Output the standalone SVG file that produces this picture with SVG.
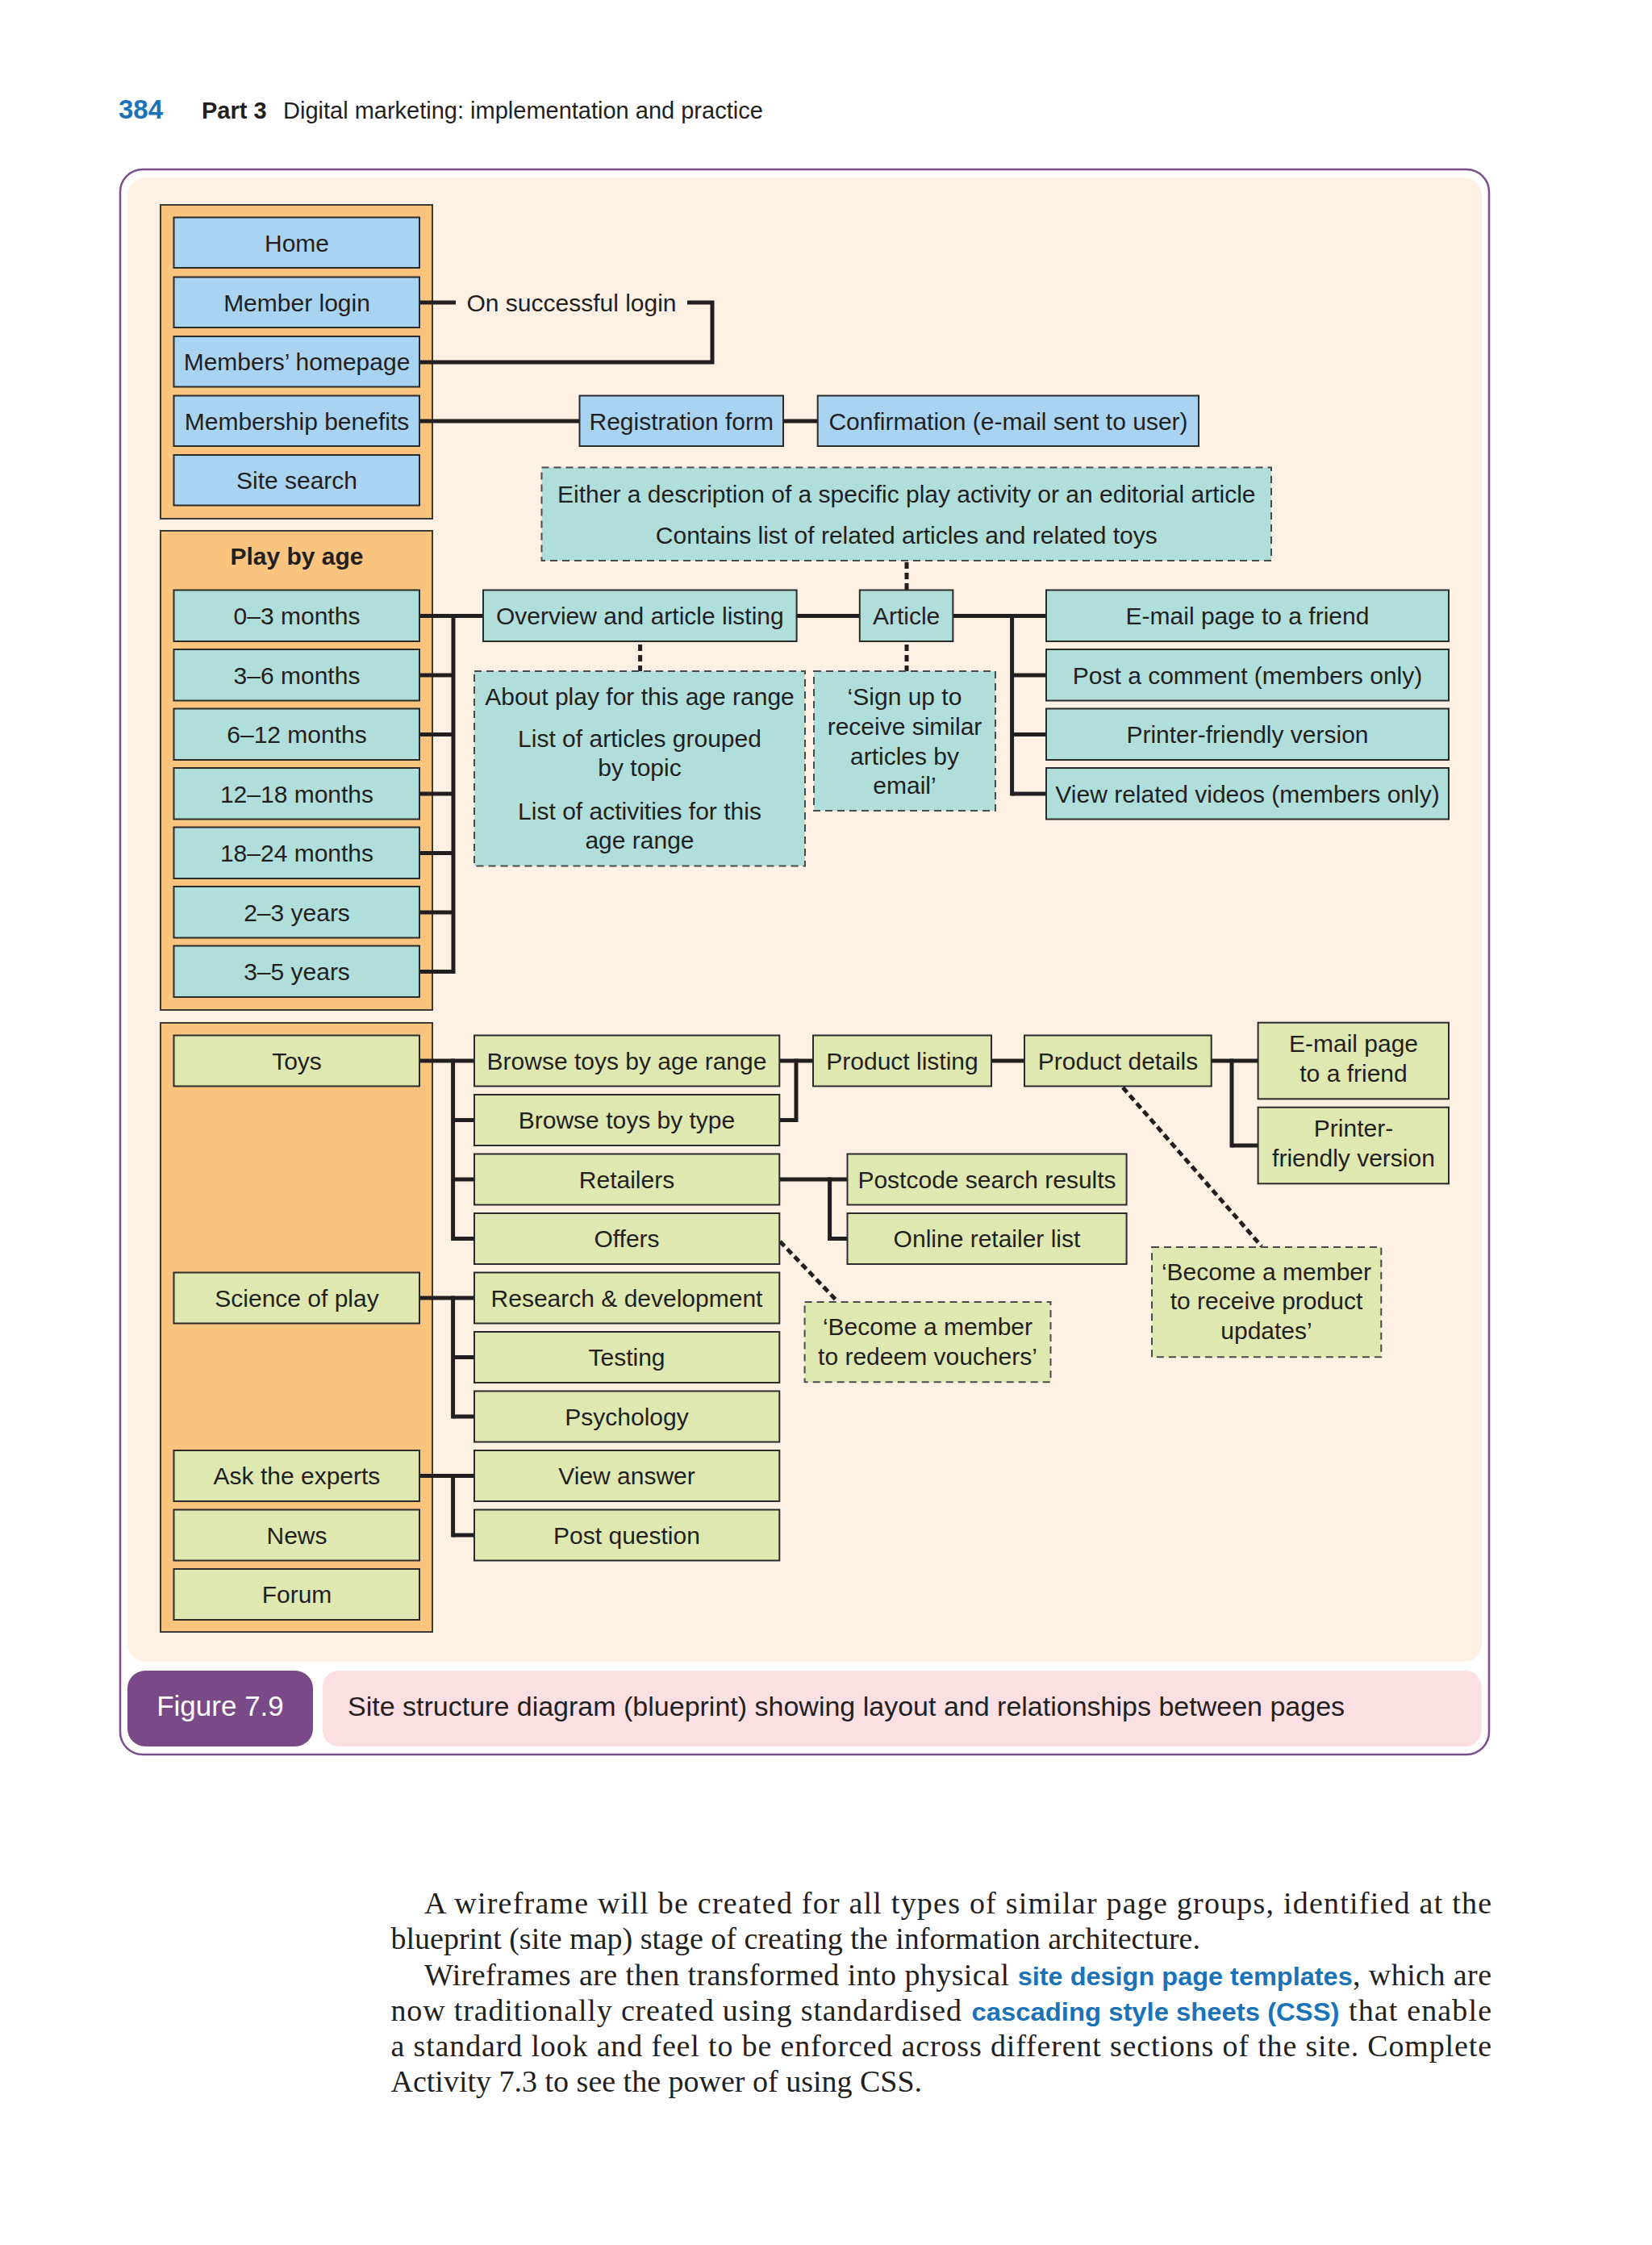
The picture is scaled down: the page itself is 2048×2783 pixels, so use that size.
<svg xmlns="http://www.w3.org/2000/svg" width="2048" height="2783" viewBox="0 0 2048 2783">
<style>
.t{font-family:"Liberation Sans",Arial,Helvetica,sans-serif;font-size:30px;fill:#231f20;text-anchor:middle}
.b{font-weight:bold}
.blue{fill:#a9d4f1;stroke:#2b2b2b;stroke-width:2}
.teal{fill:#b0dedb;stroke:#2b2b2b;stroke-width:2}
.green{fill:#dfe8b1;stroke:#2b2b2b;stroke-width:2}
.grp{fill:#fac47f;stroke:#3a3a3a;stroke-width:2}
.dteal{fill:#b0dedb;stroke:#4a4a4a;stroke-width:2;stroke-dasharray:9 6}
.dgreen{fill:#dfe8b1;stroke:#4a4a4a;stroke-width:2;stroke-dasharray:9 6}
.ln{fill:none;stroke:#231f20;stroke-width:5}
.dl{fill:none;stroke:#231f20;stroke-width:5;stroke-dasharray:8 5}
.body{font-family:"Liberation Serif","Times New Roman",serif;font-size:38px;fill:#231f20}
.kw{font-family:"Liberation Sans",Arial,sans-serif;font-size:32px;font-weight:bold;fill:#1a72b9}
</style>

<!-- page header -->
<g id="header">
<text x="147" y="147" style="font-family:'Liberation Sans',Arial,sans-serif;font-size:33px;font-weight:bold;fill:#1a72b9">384</text>
<text x="250" y="147" style="font-family:'Liberation Sans',Arial,sans-serif;font-size:29px;font-weight:bold;fill:#231f20">Part 3</text>
<text x="351" y="147" style="font-family:'Liberation Sans',Arial,sans-serif;font-size:29px;fill:#231f20">Digital marketing: implementation and practice</text>
</g>

<!-- frame -->
<g id="frame">
<rect x="149" y="210" width="1697" height="1965" rx="28" fill="#ffffff" stroke="#7d4e8d" stroke-width="2.5"/>
<rect x="158" y="220" width="1679" height="1840" rx="22" fill="#fef1e4"/>
</g>

<!-- group containers -->
<g id="group-main"><rect class="grp" x="199" y="254" width="337" height="389"/></g>
<g id="group-playbyage"><rect class="grp" x="199" y="658" width="337" height="594"/>
<text class="t b" x="368" y="700">Play by age</text></g>
<g id="group-toys"><rect class="grp" x="199" y="1268" width="337" height="755"/></g>

<!-- connectors -->
<g id="connectors">
<line class="ln" x1="520" y1="375" x2="565" y2="375"/>
<polyline class="ln" points="852,375 883,375 883,449 520,449"/>
<line class="ln" x1="520" y1="522" x2="718" y2="522"/>
<line class="ln" x1="971" y1="522" x2="1014" y2="522"/>
<!-- play by age -->
<line class="ln" x1="520" y1="763.5" x2="599" y2="763.5"/>
<line class="ln" x1="562" y1="761" x2="562" y2="1207"/>
<line class="ln" x1="520" y1="837" x2="562" y2="837"/>
<line class="ln" x1="520" y1="910.5" x2="562" y2="910.5"/>
<line class="ln" x1="520" y1="984" x2="562" y2="984"/>
<line class="ln" x1="520" y1="1057.5" x2="562" y2="1057.5"/>
<line class="ln" x1="520" y1="1131" x2="562" y2="1131"/>
<line class="ln" x1="520" y1="1204.5" x2="562" y2="1204.5"/>
<line class="ln" x1="987.6" y1="763.5" x2="1065.8" y2="763.5"/>
<line class="ln" x1="1181.4" y1="763.5" x2="1297" y2="763.5"/>
<line class="ln" x1="1254.6" y1="761" x2="1254.6" y2="986.5"/>
<line class="ln" x1="1254.6" y1="837" x2="1297" y2="837"/>
<line class="ln" x1="1254.6" y1="910.5" x2="1297" y2="910.5"/>
<line class="ln" x1="1254.6" y1="984" x2="1297" y2="984"/>
<line class="dl" x1="793.6" y1="799" x2="793.6" y2="832"/>
<line class="dl" x1="1124" y1="697" x2="1124" y2="731.5"/>
<line class="dl" x1="1124" y1="799" x2="1124" y2="832"/>
<!-- toys -->
<line class="ln" x1="519.7" y1="1315" x2="588" y2="1315"/>
<line class="ln" x1="561.6" y1="1312.5" x2="561.6" y2="1538"/>
<line class="ln" x1="561.6" y1="1388.5" x2="588" y2="1388.5"/>
<line class="ln" x1="561.6" y1="1462" x2="588" y2="1462"/>
<line class="ln" x1="561.6" y1="1535.5" x2="588" y2="1535.5"/>
<line class="ln" x1="519.7" y1="1609" x2="588" y2="1609"/>
<line class="ln" x1="561.6" y1="1606.5" x2="561.6" y2="1758.5"/>
<line class="ln" x1="561.6" y1="1682.5" x2="588" y2="1682.5"/>
<line class="ln" x1="561.6" y1="1756" x2="588" y2="1756"/>
<line class="ln" x1="519.7" y1="1829.5" x2="588" y2="1829.5"/>
<line class="ln" x1="561.6" y1="1827" x2="561.6" y2="1905.5"/>
<line class="ln" x1="561.6" y1="1903" x2="588" y2="1903"/>
<line class="ln" x1="966.3" y1="1315" x2="1008" y2="1315"/>
<line class="ln" x1="987" y1="1312.5" x2="987" y2="1391"/>
<line class="ln" x1="966.3" y1="1388.5" x2="987" y2="1388.5"/>
<line class="ln" x1="1229" y1="1315" x2="1270" y2="1315"/>
<line class="ln" x1="1501.7" y1="1315" x2="1559.6" y2="1315"/>
<line class="ln" x1="1527" y1="1312.5" x2="1527" y2="1422.5"/>
<line class="ln" x1="1527" y1="1420" x2="1559.6" y2="1420"/>
<line class="ln" x1="966.3" y1="1462" x2="1050.5" y2="1462"/>
<line class="ln" x1="1028.6" y1="1459.5" x2="1028.6" y2="1538"/>
<line class="ln" x1="1028.6" y1="1535.5" x2="1050.5" y2="1535.5"/>
<line class="dl" x1="967" y1="1539" x2="1037" y2="1612"/>
<line class="dl" x1="1392" y1="1348" x2="1564" y2="1545"/>
</g>

<!-- main nodes -->
<g id="n-home"><rect class="blue" x="215.5" y="269.5" width="304.5" height="62.5"/><text class="t" x="368" y="311.5">Home</text></g>
<g id="n-member-login"><rect class="blue" x="215.5" y="343.5" width="304.5" height="62.5"/><text class="t" x="368" y="385.5">Member login</text></g>
<g id="n-login-label"><text class="t" x="708.5" y="385.5">On successful login</text></g>
<g id="n-members-homepage"><rect class="blue" x="215.5" y="417" width="304.5" height="62.5"/><text class="t" x="368" y="459">Members’ homepage</text></g>
<g id="n-membership-benefits"><rect class="blue" x="215.5" y="490.5" width="304.5" height="62.5"/><text class="t" x="368" y="532.5">Membership benefits</text></g>
<g id="n-site-search"><rect class="blue" x="215.5" y="564" width="304.5" height="62.5"/><text class="t" x="368" y="606">Site search</text></g>
<g id="n-registration"><rect class="blue" x="718.5" y="490.5" width="252.5" height="62.5"/><text class="t" x="844.7" y="532.5">Registration form</text></g>
<g id="n-confirmation"><rect class="blue" x="1013.7" y="490.5" width="472.3" height="62.5"/><text class="t" x="1250" y="532.5">Confirmation (e-mail sent to user)</text></g>

<!-- play by age nodes -->
<g id="n-0-3"><rect class="teal" x="215.5" y="731.5" width="304.5" height="63.5"/><text class="t" x="368" y="774">0–3 months</text></g>
<g id="n-3-6"><rect class="teal" x="215.5" y="805" width="304.5" height="63.5"/><text class="t" x="368" y="847.5">3–6 months</text></g>
<g id="n-6-12"><rect class="teal" x="215.5" y="878.5" width="304.5" height="63.5"/><text class="t" x="368" y="921">6–12 months</text></g>
<g id="n-12-18"><rect class="teal" x="215.5" y="952" width="304.5" height="63.5"/><text class="t" x="368" y="994.5">12–18 months</text></g>
<g id="n-18-24"><rect class="teal" x="215.5" y="1025.5" width="304.5" height="63.5"/><text class="t" x="368" y="1068">18–24 months</text></g>
<g id="n-2-3y"><rect class="teal" x="215.5" y="1099" width="304.5" height="63.5"/><text class="t" x="368" y="1141.5">2–3 years</text></g>
<g id="n-3-5y"><rect class="teal" x="215.5" y="1172.5" width="304.5" height="63.5"/><text class="t" x="368" y="1215">3–5 years</text></g>
<g id="n-overview"><rect class="teal" x="599" y="731.5" width="388.6" height="63.5"/><text class="t" x="793.3" y="774">Overview and article listing</text></g>
<g id="n-article"><rect class="teal" x="1065.8" y="731.5" width="115.6" height="63.5"/><text class="t" x="1123.6" y="774">Article</text></g>
<g id="n-email-friend"><rect class="teal" x="1297" y="731.5" width="499" height="63.5"/><text class="t" x="1546.5" y="774">E-mail page to a friend</text></g>
<g id="n-post-comment"><rect class="teal" x="1297" y="805" width="499" height="63.5"/><text class="t" x="1546.5" y="847.5">Post a comment (members only)</text></g>
<g id="n-printer"><rect class="teal" x="1297" y="878.5" width="499" height="63.5"/><text class="t" x="1546.5" y="921">Printer-friendly version</text></g>
<g id="n-videos"><rect class="teal" x="1297" y="952" width="499" height="63.5"/><text class="t" x="1546.5" y="994.5">View related videos (members only)</text></g>
<g id="n-note-article"><rect class="dteal" x="671.5" y="579.5" width="904.5" height="115.5"/>
<text class="t" x="1123.8" y="623">Either a description of a specific play activity or an editorial article</text>
<text class="t" x="1123.8" y="674">Contains list of related articles and related toys</text></g>
<g id="n-note-about"><rect class="dteal" x="588" y="832" width="410" height="241.5"/>
<text class="t" x="793" y="874">About play for this age range</text>
<text class="t" x="793" y="925.5">List of articles grouped</text>
<text class="t" x="793" y="962">by topic</text>
<text class="t" x="793" y="1015.5">List of activities for this</text>
<text class="t" x="793" y="1052">age range</text></g>
<g id="n-note-signup"><rect class="dteal" x="1009" y="832" width="225" height="173"/>
<text class="t" x="1121.5" y="874">‘Sign up to</text>
<text class="t" x="1121.5" y="911">receive similar</text>
<text class="t" x="1121.5" y="947.5">articles by</text>
<text class="t" x="1121.5" y="984">email’</text></g>

<!-- toys nodes -->
<g id="n-toys"><rect class="green" x="215.5" y="1283.5" width="304.5" height="63"/><text class="t" x="368" y="1325.5">Toys</text></g>
<g id="n-science"><rect class="green" x="215.5" y="1577.5" width="304.5" height="63"/><text class="t" x="368" y="1619.5">Science of play</text></g>
<g id="n-ask"><rect class="green" x="215.5" y="1798" width="304.5" height="63"/><text class="t" x="368" y="1840">Ask the experts</text></g>
<g id="n-news"><rect class="green" x="215.5" y="1871.5" width="304.5" height="63"/><text class="t" x="368" y="1913.5">News</text></g>
<g id="n-forum"><rect class="green" x="215.5" y="1945" width="304.5" height="63"/><text class="t" x="368" y="1987">Forum</text></g>
<g id="n-browse-age"><rect class="green" x="588" y="1283.5" width="378.3" height="63"/><text class="t" x="777" y="1325.5">Browse toys by age range</text></g>
<g id="n-browse-type"><rect class="green" x="588" y="1357" width="378.3" height="63"/><text class="t" x="777" y="1399">Browse toys by type</text></g>
<g id="n-retailers"><rect class="green" x="588" y="1430.5" width="378.3" height="63"/><text class="t" x="777" y="1472.5">Retailers</text></g>
<g id="n-offers"><rect class="green" x="588" y="1504" width="378.3" height="63"/><text class="t" x="777" y="1546">Offers</text></g>
<g id="n-rd"><rect class="green" x="588" y="1577.5" width="378.3" height="63"/><text class="t" x="777" y="1619.5">Research &amp; development</text></g>
<g id="n-testing"><rect class="green" x="588" y="1651" width="378.3" height="63"/><text class="t" x="777" y="1693">Testing</text></g>
<g id="n-psychology"><rect class="green" x="588" y="1724.5" width="378.3" height="63"/><text class="t" x="777" y="1766.5">Psychology</text></g>
<g id="n-view-answer"><rect class="green" x="588" y="1798" width="378.3" height="63"/><text class="t" x="777" y="1840">View answer</text></g>
<g id="n-post-question"><rect class="green" x="588" y="1871.5" width="378.3" height="63"/><text class="t" x="777" y="1913.5">Post question</text></g>
<g id="n-product-listing"><rect class="green" x="1008" y="1283.5" width="221" height="63"/><text class="t" x="1118.5" y="1325.5">Product listing</text></g>
<g id="n-product-details"><rect class="green" x="1270" y="1283.5" width="231.7" height="63"/><text class="t" x="1386" y="1325.5">Product details</text></g>
<g id="n-toy-email"><rect class="green" x="1559.6" y="1267.7" width="236.4" height="94.6"/>
<text class="t" x="1678" y="1304">E-mail page</text><text class="t" x="1678" y="1340.7">to a friend</text></g>
<g id="n-toy-printer"><rect class="green" x="1559.6" y="1372.7" width="236.4" height="94.6"/>
<text class="t" x="1678" y="1409">Printer-</text><text class="t" x="1678" y="1446">friendly version</text></g>
<g id="n-postcode"><rect class="green" x="1050.5" y="1430.5" width="346.1" height="63"/><text class="t" x="1223.5" y="1472.5">Postcode search results</text></g>
<g id="n-online-retailer"><rect class="green" x="1050.5" y="1504" width="346.1" height="63"/><text class="t" x="1223.5" y="1546">Online retailer list</text></g>
<g id="n-note-vouchers"><rect class="dgreen" x="997.6" y="1614" width="304.9" height="99.3"/>
<text class="t" x="1150" y="1655">‘Become a member</text><text class="t" x="1150" y="1691.7">to redeem vouchers’</text></g>
<g id="n-note-updates"><rect class="dgreen" x="1428" y="1546" width="284.3" height="136.3"/>
<text class="t" x="1570" y="1586.7">‘Become a member</text><text class="t" x="1570" y="1623">to receive product</text><text class="t" x="1570" y="1660">updates’</text></g>

<!-- caption -->
<g id="caption">
<rect x="158" y="2071" width="230" height="94" rx="22" fill="#7a4a88"/>
<text x="273" y="2127" style="font-family:'Liberation Sans',Arial,sans-serif;font-size:35px;fill:#ffffff;text-anchor:middle">Figure 7.9</text>
<rect x="400" y="2071" width="1436.5" height="94" rx="20" fill="#fbdfe3"/>
<text x="431" y="2127" style="font-family:'Liberation Sans',Arial,sans-serif;font-size:34px;fill:#231f20">Site structure diagram (blueprint) showing layout and relationships between pages</text>
</g>

<!-- body text -->
<g id="body-text">
<text class="body" x="526" y="2372" textLength="1323" lengthAdjust="spacing">A wireframe will be created for all types of similar page groups, identified at the</text>
<text class="body" x="484.5" y="2416">blueprint (site map) stage of creating the information architecture.</text>
<text class="body" x="526" y="2460.7" textLength="725" lengthAdjust="spacing">Wireframes are then transformed into physical</text>
<text class="kw" x="1261.7" y="2460.7" textLength="415" lengthAdjust="spacingAndGlyphs">site design page templates</text>
<text class="body" x="1677" y="2460.7" textLength="172" lengthAdjust="spacing">, which are</text>
<text class="body" x="484.5" y="2505" textLength="707.5" lengthAdjust="spacing">now traditionally created using standardised</text>
<text class="kw" x="1204.5" y="2505" textLength="456" lengthAdjust="spacingAndGlyphs">cascading style sheets (CSS)</text>
<text class="body" x="1672" y="2505" textLength="177" lengthAdjust="spacing">that enable</text>
<text class="body" x="484.5" y="2549" textLength="1364.5" lengthAdjust="spacing">a standard look and feel to be enforced across different sections of the site. Complete</text>
<text class="body" x="484.5" y="2593">Activity 7.3 to see the power of using CSS.</text>
</g>
</svg>
